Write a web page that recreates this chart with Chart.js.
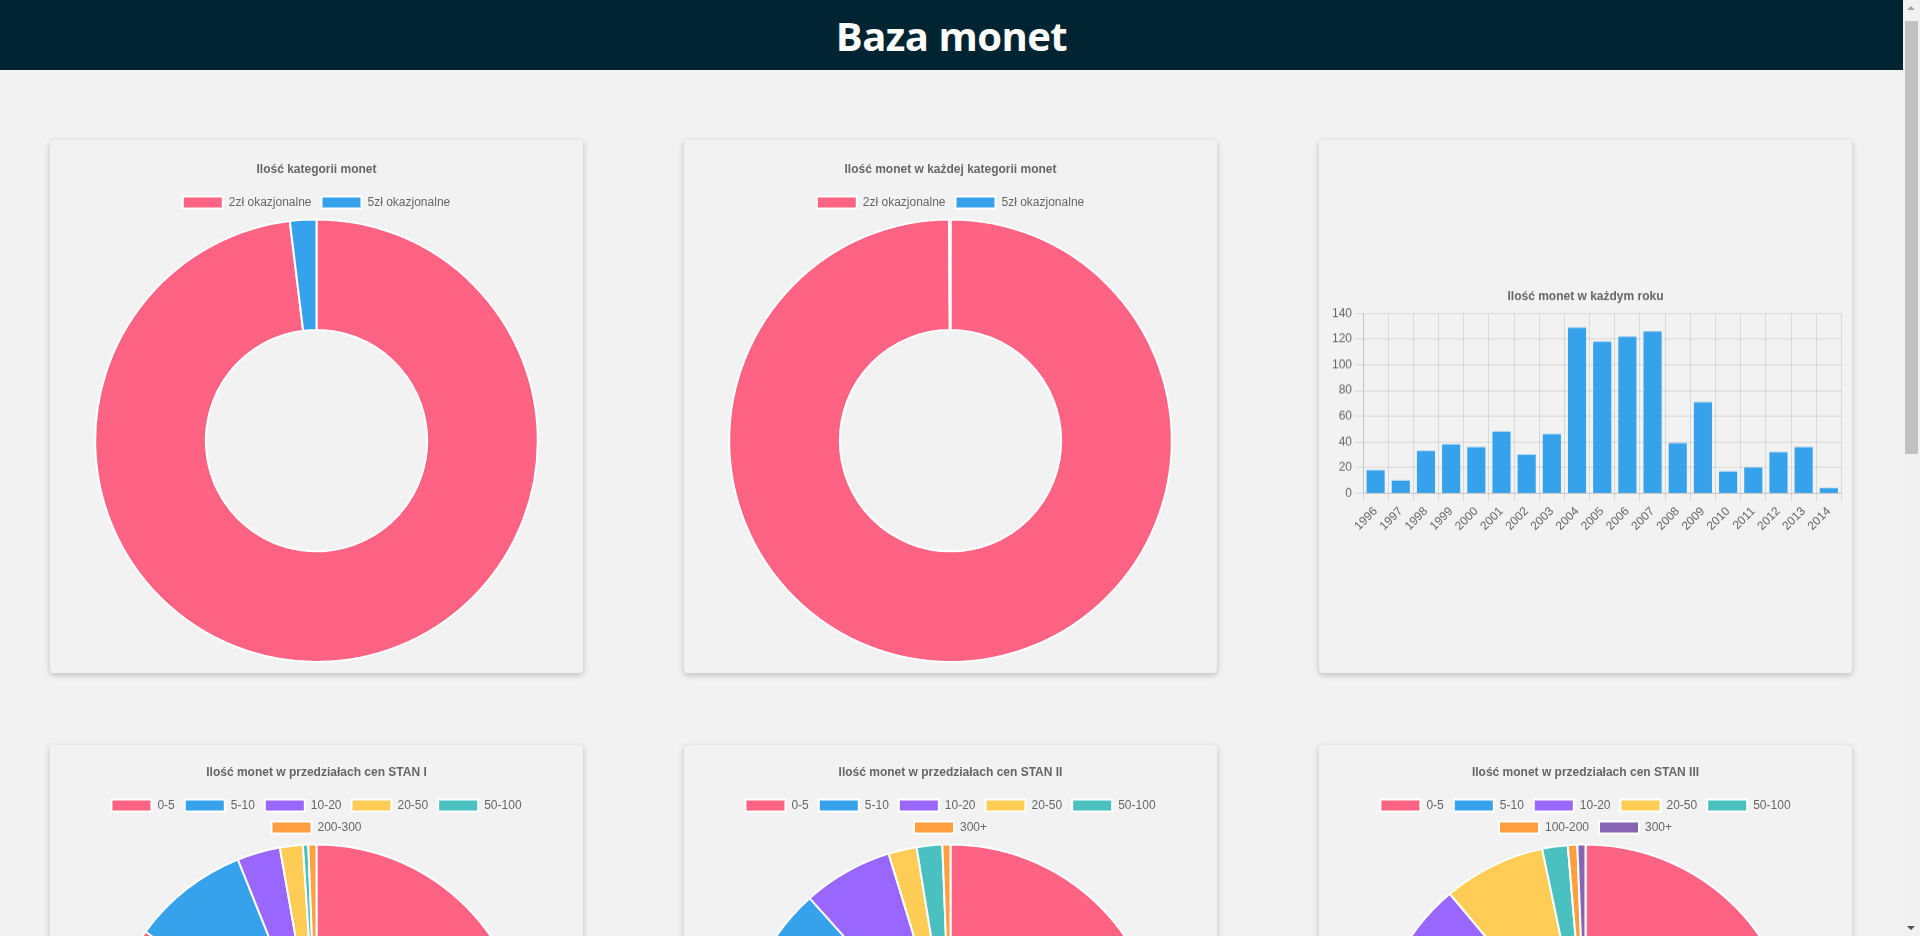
<!DOCTYPE html>
<html lang="pl">
<head>
<meta charset="utf-8">
<title>Baza monet</title>
<script src="https://cdn.jsdelivr.net/npm/chart.js@4.4.1/dist/chart.umd.min.js"></script>
<style>
html, body { margin: 0; padding: 0; background: #f2f2f2; overflow: hidden; }
#page { position: relative; width: 1903px; height: 1933px; }
header { height: 70px; background: #012432; display: flex; align-items: center; justify-content: center; }
header h1 { margin: 0; color: #fff; font: bold 40px "Open Sans", "DejaVu Sans", sans-serif; letter-spacing: -0.5px; }
.card { position: absolute; width: 533px; height: 533px; box-sizing: border-box; padding: 10px;
        background: #f2f2f2; border-radius: 4px;
        box-shadow: 0 2px 6px rgba(0,0,0,0.22); display: flex; align-items: center; justify-content: center; }
.sq { position: relative; width: 513px; height: 513px; }
.wide { position: relative; width: 513px; height: 256.5px; }
#sb { position: fixed; top: 0; left: 1903px; width: 17px; height: 936px; background: #f1f1f1; }
#sb .thumb { position: absolute; left: 2px; top: 21px; width: 13px; height: 433px; background: #c1c1c1; }
#sb .up { position: absolute; left: 4px; top: 6px; width: 0; height: 0; border-left: 4px solid transparent; border-right: 4px solid transparent; border-bottom: 4px solid #a3a3a3; }
#sb .down { position: absolute; left: 4px; bottom: 6px; width: 0; height: 0; border-left: 4px solid transparent; border-right: 4px solid transparent; border-top: 4px solid #505050; }
</style>
</head>
<body>
<div id="page">
  <header><h1>Baza monet</h1></header>
  <div class="card" style="left:50px;top:140px"><div class="sq"><canvas id="c1"></canvas></div></div>
  <div class="card" style="left:684px;top:140px"><div class="sq"><canvas id="c2"></canvas></div></div>
  <div class="card" style="left:1319px;top:140px"><div class="wide" style="top:1px"><canvas id="c3"></canvas></div></div>
  <div class="card" style="left:50px;top:745px;align-items:flex-start"><div class="sq"><canvas id="c4"></canvas></div></div>
  <div class="card" style="left:684px;top:745px;align-items:flex-start"><div class="sq"><canvas id="c5"></canvas></div></div>
  <div class="card" style="left:1319px;top:745px;align-items:flex-start"><div class="sq"><canvas id="c6"></canvas></div></div>
</div>
<div id="sb"><div class="up"></div><div class="thumb"></div><div class="down"></div></div>
<script>
// ---- data ----
const coinCategories = ['2zł okazjonalne', '5zł okazjonalne'];
const categoryCounts = [51, 1];
const coinsPerCategory = [972, 1];

const years = ['1996','1997','1998','1999','2000','2001','2002','2003','2004','2005',
               '2006','2007','2008','2009','2010','2011','2012','2013','2014'];
const coinsPerYear = [18, 10, 33, 38, 36, 48, 30, 46, 129, 118, 122, 126, 39, 71, 17, 20, 32, 36, 4];

const stan1Labels = ['0-5', '5-10', '10-20', '20-50', '50-100', '200-300'];
const stan1Values = [827, 87, 32, 17, 4, 6];
const stan2Labels = ['0-5', '5-10', '10-20', '20-50', '50-100', '300+'];
const stan2Values = [792, 68, 67, 21, 19, 6];
const stan3Labels = ['0-5', '5-10', '10-20', '20-50', '50-100', '100-200', '300+'];
const stan3Values = [756, 41, 68, 76, 19, 7, 6];

// ---- styles ----
const PINK = 'rgb(255, 99, 132)', BLUE = 'rgb(54, 162, 235)', PURPLE = 'rgb(153, 102, 255)',
      YELLOW = 'rgb(255, 205, 86)', TEAL = 'rgb(75, 192, 192)', ORANGE = 'rgb(255, 159, 64)',
      DPURPLE = 'rgb(136, 100, 180)';
const stan1Colors = [PINK, BLUE, PURPLE, YELLOW, TEAL, ORANGE];
const stan2Colors = [PINK, BLUE, PURPLE, YELLOW, TEAL, ORANGE];
const stan3Colors = [PINK, BLUE, PURPLE, YELLOW, TEAL, ORANGE, DPURPLE];

Chart.defaults.font.family = 'Arial, "Liberation Sans", Helvetica, sans-serif';
Chart.defaults.font.size = 12;
Chart.defaults.color = '#666';
Chart.defaults.animation = false;

function roundChart(id, type, title, labels, values, colors, topPad) {
  return new Chart(document.getElementById(id), {
    type: type,
    data: { labels: labels, datasets: [{ data: values, backgroundColor: colors, borderColor: '#fff', borderWidth: 2 }] },
    options: {
      responsive: true, maintainAspectRatio: false,
      layout: { padding: { top: topPad } },
      plugins: {
        title: { display: true, text: title, font: { weight: 'bold', size: 12 }, padding: 10 },
        legend: { position: 'top', labels: { boxWidth: 40, font: { size: 12 } } },
        tooltip: { enabled: false }
      }
    }
  });
}

roundChart('c1', 'doughnut', 'Ilość kategorii monet', coinCategories, categoryCounts, [PINK, BLUE], 2);
roundChart('c2', 'doughnut', 'Ilość monet w każdej kategorii monet', coinCategories, coinsPerCategory, [PINK, BLUE], 2);

new Chart(document.getElementById('c3'), {
  type: 'bar',
  data: { labels: years, datasets: [{ label: 'Ilość monet', data: coinsPerYear, backgroundColor: BLUE,
          barPercentage: 0.9, categoryPercentage: 0.8 }] },
  options: {
    responsive: true, maintainAspectRatio: false,
    plugins: {
      title: { display: true, text: 'Ilość monet w każdym roku', font: { weight: 'bold', size: 12 }, padding: 10 },
      legend: { display: false },
      tooltip: { enabled: false }
    },
    scales: {
      x: { ticks: { minRotation: 45, maxRotation: 45 }, grid: { offset: true } },
      y: { beginAtZero: true, max: 140, ticks: { stepSize: 20 } }
    }
  }
});

roundChart('c4', 'pie', 'Ilość monet w przedziałach cen STAN I', stan1Labels, stan1Values, stan1Colors, 0);
roundChart('c5', 'pie', 'Ilość monet w przedziałach cen STAN II', stan2Labels, stan2Values, stan2Colors, 0);
roundChart('c6', 'pie', 'Ilość monet w przedziałach cen STAN III', stan3Labels, stan3Values, stan3Colors, 0);
</script>
</body>
</html>
